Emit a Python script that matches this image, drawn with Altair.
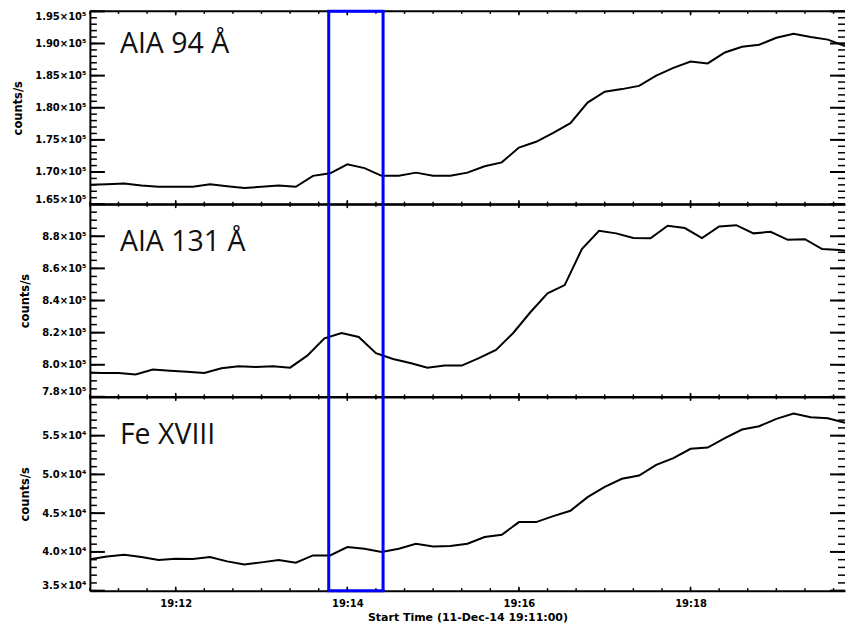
import altair as alt
import pandas as pd

# ---------------- data ----------------
# AIA 94 and Fe XVIII: 12 s cadence starting 19:11:00; AIA 131 offset by -4 s
times_94 = pd.date_range("2014-12-11 19:11:00", periods=45, freq="12s")
times_131 = pd.date_range("2014-12-11 19:10:56", periods=46, freq="12s")

aia94 = [168000, 168100, 168200, 167900, 167700, 167700, 167700, 168100, 167800, 167500,
         167700, 167900, 167700, 169400, 169800, 171200, 170600, 169400, 169400, 169900,
         169400, 169400, 169900, 170900, 171500, 173800, 174700, 176100, 177600, 180800,
         182500, 182900, 183400, 185000, 186200, 187200, 186900, 188600, 189500, 189800,
         190900, 191500, 191000, 190600, 189600]

aia131 = [795400, 794900, 794900, 793900, 797000, 796300, 795700, 794900, 797800, 799100,
          798600, 799100, 798200, 805700, 816500, 819800, 817300, 807200, 803600, 801100,
          798200, 799500, 799500, 804100, 809200, 819800, 832700, 844500, 849600, 872000,
          883400, 881800, 878900, 878700, 886500, 885100, 878900, 886100, 886900, 881800,
          882800, 877800, 878200, 872000, 871400, 870300]

fe18 = [39040, 39420, 39640, 39340, 38950, 39120, 39080, 39340, 38780, 38390,
        38650, 38950, 38610, 39550, 39550, 40630, 40410, 39980, 40410, 41060,
        40710, 40760, 41060, 41920, 42220, 43850, 43850, 44620, 45310, 47070,
        48400, 49430, 49860, 51240, 52100, 53300, 53470, 54670, 55790, 56220,
        57170, 57850, 57380, 57250, 56650]

panel_labels = ["AIA 94 Å", "AIA 131 Å", "Fe XVIII"]
label_time = pd.Timestamp("2014-12-11 19:11:21")
label_values = [188580, 870960, 53940]

y_domains = [[165000, 195000], [780000, 900000], [35000, 60000]]
y_major = [list(range(165000, 195001, 5000)),
           list(range(780000, 900001, 20000)),
           list(range(35000, 60001, 5000))]
y_minor = [list(range(165000, 195001, 1000)),
           list(range(780000, 900001, 5000)),
           list(range(35000, 60001, 1000))]
y_label_expr = [
    'format(datum.value/1e5, ".2f") + "×10⁵"',
    'datum.value >= 900000 ? "" : format(datum.value/1e5, ".1f") + "×10⁵"',
    'datum.value >= 60000 ? "" : format(datum.value/1e4, ".1f") + "×10⁴"',
]

box_times = [pd.Timestamp("2014-12-11 19:13:47"), pd.Timestamp("2014-12-11 19:14:25")]

x_title = "Start Time (11-Dec-14 19:11:00)"

x_major_ts = [pd.Timestamp(f"2014-12-11 19:{mm}:00") for mm in (12, 14, 16, 18)]
x_minor_ts = list(pd.date_range("2014-12-11 19:11:00", "2014-12-11 19:19:40", freq="20s"))


def dt(h, m, s):
    return alt.DateTime(year=2014, month=12, date=11, hours=h, minutes=m, seconds=s)


x_domain = [dt(19, 11, 0), dt(19, 19, 48)]
x_major = [dt(19, mm, 0) for mm in (12, 14, 16, 18)]

FONT = "DejaVu Sans"
W = 756
HEIGHTS = [193, 193, 194]


def make_panel(i, times, values, bottom, edge_value=None):
    H = HEIGHTS[i]
    df = pd.DataFrame({"t": times, "v": values})
    xs = alt.Scale(domain=x_domain)
    ys = alt.Scale(domain=y_domains[i], nice=False, zero=False)

    if bottom:
        xa = alt.Axis(orient="bottom", values=x_major, format="%H:%M", grid=False,
                      ticks=False, domain=True, domainColor="black", domainWidth=2,
                      labelFont=FONT, labelFontWeight="bold", labelFontSize=10,
                      labelColor="black", labelPadding=8, labelFlush=False,
                      title=x_title, titleFont=FONT, titleFontSize=11,
                      titleFontWeight="bold", titleColor="black", titlePadding=3)
    else:
        xa = alt.Axis(orient="bottom", grid=False, ticks=False, labels=False,
                      domain=True, domainColor="black", domainWidth=2, title=None)

    ya = alt.Axis(orient="left", values=y_major[i], labelExpr=y_label_expr[i],
                  grid=False, ticks=False, domain=True, domainColor="black",
                  domainWidth=2, labelFont=FONT, labelFontWeight="bold",
                  labelFontSize=10, labelColor="black", labelPadding=4,
                  labelFlush=True,
                  title="counts/s", titleFont=FONT, titleFontSize=11.5,
                  titleFontWeight="bold", titleColor="black", titlePadding=11)

    def yticks(vals, x0, x1, width):
        return (alt.Chart(pd.DataFrame({"v": vals}))
                .mark_rule(color="black", strokeWidth=width)
                .encode(y=alt.Y("v:Q", scale=ys, axis=None),
                        x=alt.value(x0), x2=alt.value(x1)))

    def xticks(vals, y0, y1, width):
        return (alt.Chart(pd.DataFrame({"t": vals}))
                .mark_rule(color="black", strokeWidth=width)
                .encode(x=alt.X("t:T", scale=xs, axis=None),
                        y=alt.value(y0), y2=alt.value(y1)))

    top_border = (alt.Chart(pd.DataFrame({"v": [y_domains[i][1]]}))
                  .mark_rule(color="black", strokeWidth=2)
                  .encode(y=alt.Y("v:Q", scale=ys, axis=None)))

    layers = [
        alt.Chart(df).mark_line(clip=True, color="black", strokeWidth=2).encode(
            x=alt.X("t:T", scale=xs, axis=xa),
            y=alt.Y("v:Q", scale=ys, axis=ya)),
        yticks(y_minor[i], 0, 7, 1.5),
        yticks(y_major[i], 0, 15, 2),
        yticks(y_minor[i], W - 7, W, 1.5),
        yticks(y_major[i], W - 15, W, 2),
        xticks(x_minor_ts, H - 2.5, H, 1.5),
        xticks(x_major_ts, H - 4, H, 1.5),
        xticks(x_minor_ts, 0, 2.5, 1.5),
        xticks(x_major_ts, 0, 4, 1.5),
        top_border,
    ]

    lab = pd.DataFrame({"t": [label_time], "v": [label_values[i]], "label": [panel_labels[i]]})
    layers.append(
        alt.Chart(lab).mark_text(align="left", baseline="alphabetic", font="Open Sans",
                                 fontSize=28.5, color="#111111")
        .encode(x=alt.X("t:T", scale=xs, axis=None),
                y=alt.Y("v:Q", scale=ys, axis=None),
                text="label:N"))

    bv = pd.DataFrame({"t": box_times})
    layers.append(
        alt.Chart(bv).mark_rule(color="#0000ff", strokeWidth=3)
        .encode(x=alt.X("t:T", scale=xs, axis=None)))

    if edge_value is not None:
        be = pd.DataFrame({"t": [box_times[0]], "t2": [box_times[1]], "v": [edge_value]})
        layers.append(
            alt.Chart(be).mark_rule(color="#0000ff", strokeWidth=3, strokeCap="square")
            .encode(x=alt.X("t:T", scale=xs, axis=None), x2="t2:T",
                    y=alt.Y("v:Q", scale=ys, axis=None)))

    return (alt.layer(*layers)
            .resolve_axis(x="independent", y="independent")
            .properties(width=W, height=H))


p1 = make_panel(0, times_94, aia94, False, edge_value=y_domains[0][1])
p2 = make_panel(1, times_131, aia131, False)
p3 = make_panel(2, times_94, fe18, True, edge_value=y_domains[2][0])

chart = (alt.vconcat(p1, p2, p3, spacing=0, bounds="flush")
         .properties(padding={"left": 12, "top": 8, "right": 0, "bottom": 2},
                     background="white")
         .configure_view(stroke=None))

chart.save("out.html", embed_options={"renderer": "svg", "actions": False})
